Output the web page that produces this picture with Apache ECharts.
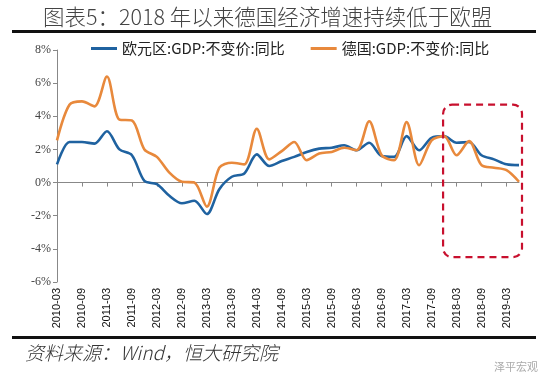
<!DOCTYPE html>
<html>
<head>
<meta charset="utf-8">
<title>德国 vs 欧元区 GDP</title>
<script src="https://cdn.jsdelivr.net/npm/echarts@6/dist/echarts.min.js"></script>
<style>
  html, body { margin: 0; padding: 0; background: #fff; }
  #chart { width: 550px; height: 390px; }
</style>
</head>
<body>
<div id="chart"></div>
<script>
// quarterly, 2010-03 .. 2019-06
var quarters = ["2010-03","2010-06","2010-09","2010-12","2011-03","2011-06","2011-09","2011-12",
  "2012-03","2012-06","2012-09","2012-12","2013-03","2013-06","2013-09","2013-12",
  "2014-03","2014-06","2014-09","2014-12","2015-03","2015-06","2015-09","2015-12",
  "2016-03","2016-06","2016-09","2016-12","2017-03","2017-06","2017-09","2017-12",
  "2018-03","2018-06","2018-09","2018-12","2019-03","2019-06"];

var euroGdp = [1.1, 2.45, 2.45, 2.35, 3.1, 2.0, 1.65, 0.1,
  -0.1, -0.8, -1.25, -1.1, -1.9, -0.4, 0.35, 0.55,
  1.7, 1.0, 1.3, 1.55, 1.85, 2.05, 2.1, 2.25,
  1.95, 2.4, 1.6, 1.55, 2.8, 1.95, 2.7, 2.8,
  2.4, 2.45, 1.65, 1.4, 1.1, 1.05];

var germanyGdp = [2.55, 4.7, 4.9, 4.6, 6.4, 3.8, 3.75, 2.0,
  1.55, 0.6, 0.05, 0.0, -1.45, 0.9, 1.2, 1.1,
  3.25, 1.4, 1.9, 2.45, 1.35, 1.75, 1.85, 2.1,
  1.95, 3.7, 1.65, 1.35, 3.65, 1.05, 2.55, 2.8,
  1.65, 2.5, 1.05, 0.9, 0.75, 0.05];

var seriesNames = ["欧元区:GDP:不变价:同比", "德国:GDP:不变价:同比"];
var titleText = "图表5：2018 年以来德国经济增速持续低于欧盟";
var sourceText = "资料来源：Wind，恒大研究院";

// highlighted window: from 2017-12 to end, 4.7% down to -4.5%
var boxFrom = "2017-12";
var boxTop = 4.7, boxBottom = -4.5;

var chart = echarts.init(document.getElementById("chart"));

var option = {
  animation: false,
  backgroundColor: "#fff",
  title: {
    text: titleText,
    left: 38,
    top: 1,
    textStyle: { fontFamily: "Noto Sans CJK SC", fontSize: 21.5, fontWeight: 300, color: "#444" }
  },
  legend: {
    top: 36,
    left: 86,
    itemWidth: 26,
    itemHeight: 3,
    itemGap: 26,
    icon: "rect",
    textStyle: { fontFamily: "Noto Sans CJK SC", fontSize: 15, color: "#222" },
    data: seriesNames
  },
  grid: { left: 57, right: 31, top: 50, bottom: 108 },
  xAxis: {
    type: "category",
    data: quarters,
    boundaryGap: false,
    axisLine: { lineStyle: { color: "#888", width: 1 } },
    axisTick: { interval: 1, length: 4, lineStyle: { color: "#888" } },
    axisLabel: {
      interval: 1,
      rotate: 90,
      margin: 6,
      fontFamily: "Liberation Sans",
      fontSize: 11,
      color: "#111"
    },
    splitLine: { show: false }
  },
  yAxis: {
    type: "value",
    min: -6,
    max: 8,
    interval: 2,
    axisLine: { show: true, lineStyle: { color: "#888", width: 1 } },
    axisTick: { show: true, length: 4, lineStyle: { color: "#888" } },
    axisLabel: {
      formatter: "{value}%",
      fontFamily: "Liberation Serif",
      fontSize: 12,
      color: "#444",
      margin: 6
    },
    splitLine: { show: false }
  },
  series: [
    {
      name: seriesNames[0],
      type: "line",
      data: euroGdp,
      smooth: 0.3,
      showSymbol: false,
      lineStyle: { color: "#1f62a0", width: 2.6 },
      itemStyle: { color: "#1f62a0" }
    },
    {
      name: seriesNames[1],
      type: "line",
      data: germanyGdp,
      smooth: 0.3,
      showSymbol: false,
      lineStyle: { color: "#e8893c", width: 2.6 },
      itemStyle: { color: "#e8893c" }
    }
  ]
};

chart.setOption(option);

// decorations: rules under title / above source, dashed highlight box, source note
var p1 = chart.convertToPixel({ gridIndex: 0 }, [boxFrom, boxTop]);
var p2 = chart.convertToPixel({ gridIndex: 0 }, [quarters[quarters.length - 1], boxBottom]);

chart.setOption({
  graphic: [
    { type: "rect", shape: { x: 12, y: 30, width: 524, height: 3 }, style: { fill: "#111" } },
    { type: "rect", shape: { x: 12, y: 336, width: 524, height: 3 }, style: { fill: "#111" } },
    {
      type: "rect",
      shape: { x: p1[0] - 1, y: p1[1], width: p2[0] - p1[0] + 4, height: p2[1] - p1[1], r: 9 },
      style: { fill: "none", stroke: "#c8102e", lineWidth: 2.2, lineDash: [7, 5] },
      z: 10
    },
    {
      type: "text",
      left: 25,
      top: 343,
      style: {
        text: sourceText,
        font: "italic 300 19px 'Noto Sans CJK SC'",
        fill: "#333"
      }
    },
    {
      type: "text",
      left: 494,
      top: 361,
      style: { text: "泽平宏观", font: "11px 'Noto Sans CJK SC'", fill: "#aaa" }
    }
  ]
});
</script>
</body>
</html>
